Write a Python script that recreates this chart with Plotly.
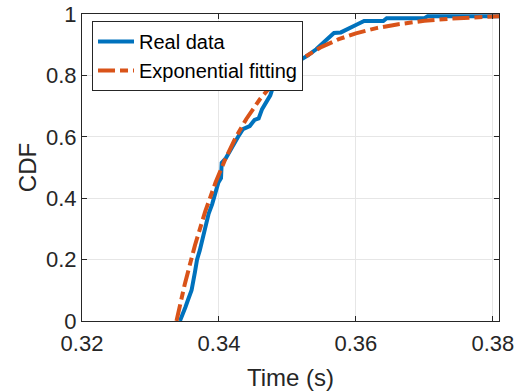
import plotly.graph_objects as go

real_time = [0.3343, 0.3347, 0.3351, 0.3355, 0.3360, 0.3365, 0.3368, 0.3372, 0.3376,
             0.3381, 0.3385, 0.3390, 0.3395, 0.3399, 0.3403, 0.3404, 0.3410, 0.3416,
             0.3422, 0.3428, 0.3435, 0.3445, 0.3452, 0.3458, 0.3463, 0.3470, 0.3475,
             0.3480, 0.3487, 0.3495, 0.3505, 0.3515, 0.3530, 0.3542, 0.3552, 0.3560,
             0.3568, 0.3578, 0.3590, 0.3600, 0.3612, 0.3640, 0.3645, 0.3700, 0.3705,
             0.3809]
real_cdf = [0.000, 0.020, 0.045, 0.070, 0.100, 0.160, 0.200, 0.230, 0.270,
            0.310, 0.350, 0.380, 0.420, 0.450, 0.465, 0.515, 0.530, 0.555,
            0.575, 0.600, 0.625, 0.635, 0.655, 0.660, 0.690, 0.720, 0.735,
            0.770, 0.785, 0.795, 0.815, 0.845, 0.865, 0.885, 0.905, 0.920,
            0.938, 0.940, 0.955, 0.964, 0.977, 0.977, 0.986, 0.986, 0.993,
            0.993]

# Exponential fitting curve
fit_time = [0.3338, 0.3350, 0.3365, 0.3380, 0.3395, 0.3410, 0.3425, 0.3440, 0.3460,
            0.3480, 0.3500, 0.3525, 0.3550, 0.3575, 0.3600, 0.3630, 0.3660, 0.3700,
            0.3740, 0.3780, 0.3809]
fit_cdf = [0.000, 0.119, 0.247, 0.357, 0.451, 0.531, 0.600, 0.658, 0.723,
           0.776, 0.818, 0.860, 0.893, 0.918, 0.937, 0.954, 0.966, 0.978,
           0.985, 0.990, 0.993]

x_ticks = [0.32, 0.34, 0.36, 0.38]
x_tick_labels = ["0.32", "0.34", "0.36", "0.38"]
y_ticks = [0, 0.2, 0.4, 0.6, 0.8, 1]
y_tick_labels = ["0", "0.2", "0.4", "0.6", "0.8", "1"]

BLUE = "#0072BD"
ORANGE = "#D95319"
AX = "#262626"
FONT = "Liberation Sans, Arial, sans-serif"

fig = go.Figure()
fig.add_trace(go.Scatter(x=real_time, y=real_cdf, mode="lines", name="Real data",
                         line=dict(color=BLUE, width=4)))
fig.add_trace(go.Scatter(x=fit_time, y=fit_cdf, mode="lines", name="Exponential fitting",
                         line=dict(color=ORANGE, width=4, dash="17px,5px,8px,5px")))

axis_common = dict(showline=True, linecolor=AX, linewidth=1, mirror="ticks",
                   ticks="inside", ticklen=5, tickcolor=AX, showgrid=True,
                   gridcolor="#e6e6e6", gridwidth=1, zeroline=False,
                   ticklabeloverflow="allow",
                   tickfont=dict(family=FONT, size=22, color=AX),
                   title_font=dict(family=FONT, size=24, color=AX))

fig.update_xaxes(range=[0.32, 0.3809], tickvals=x_ticks, ticktext=x_tick_labels,
                 title_text="Time (s)", ticklabelstandoff=3, automargin=False,
                 **axis_common)
fig.update_yaxes(range=[0, 1], tickvals=y_ticks, ticktext=y_tick_labels,
                 title_text="CDF", automargin="left", title_standoff=2,
                 **axis_common)

fig.update_layout(
    template="none",
    width=514, height=391,
    margin=dict(l=82, r=15, t=14, b=70),
    plot_bgcolor="white", paper_bgcolor="white",
    font=dict(family=FONT, color=AX),
    showlegend=True,
    legend=dict(x=0.024, y=0.977, xanchor="left", yanchor="top",
                bgcolor="white", bordercolor=AX, borderwidth=1,
                font=dict(family=FONT, size=20, color="black"),
                tracegroupgap=0, itemwidth=36),
)

fig.write_html("out.html")
